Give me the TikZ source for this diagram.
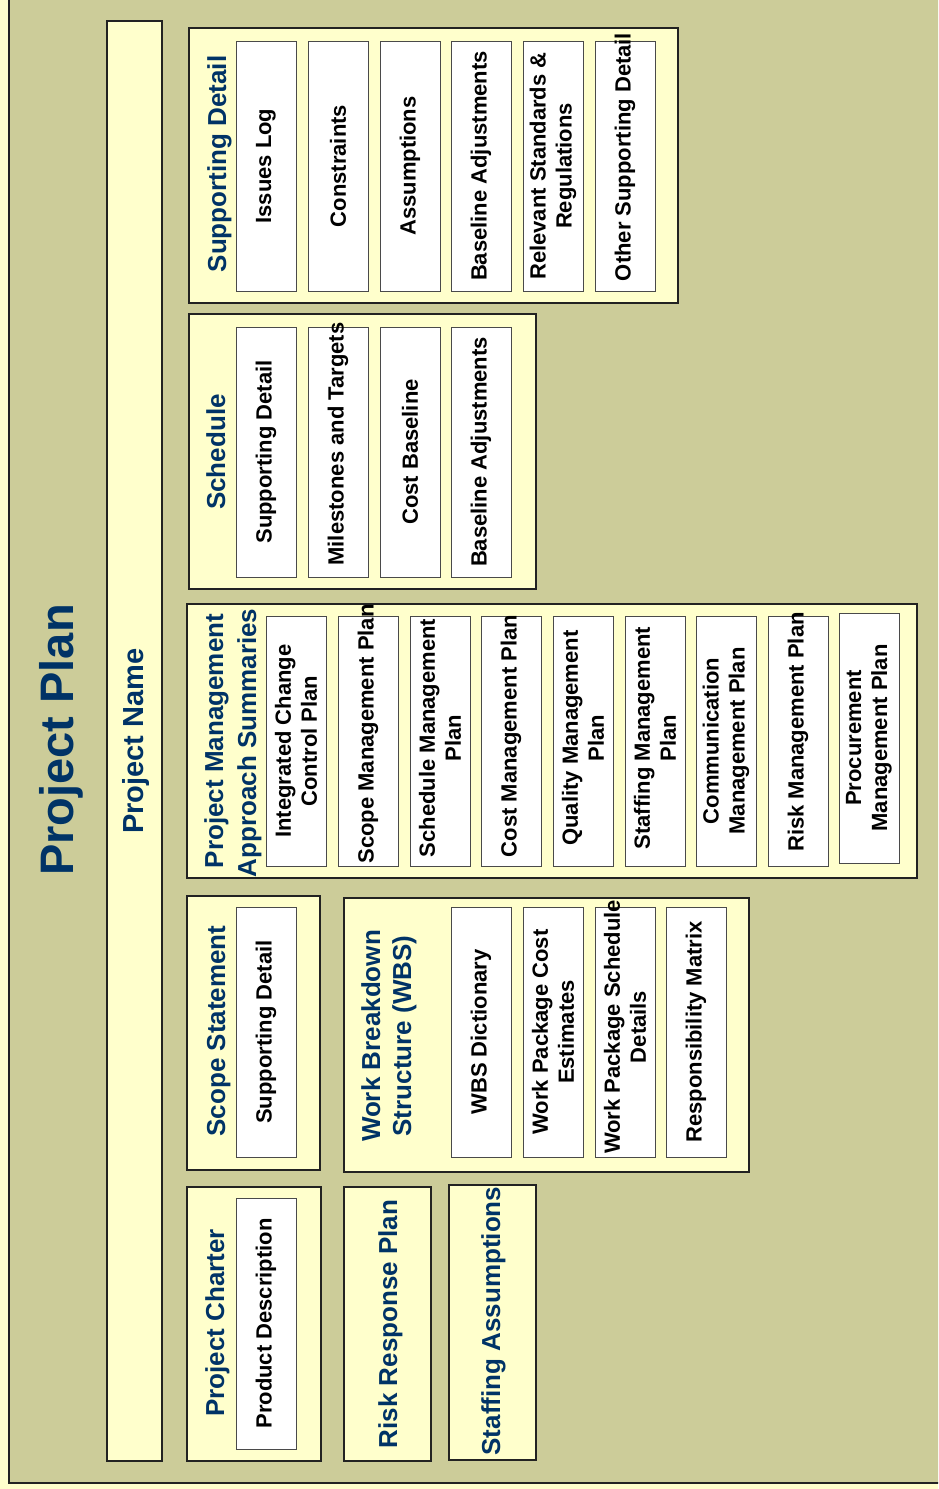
\documentclass[tikz,border=0pt]{standalone}
\usepackage{fontspec}
\setmainfont{Liberation Sans}
\definecolor{olivebg}{HTML}{CCCC99}
\definecolor{paleY}{HTML}{FFFFCC}
\definecolor{titleblue}{HTML}{003366}
\definecolor{edgeD}{HTML}{222222}
\definecolor{edgeG}{HTML}{4A4A4A}
\tikzset{
  cont/.style={draw=edgeD, line width=1.3pt, fill=paleY, inner sep=0pt, outer sep=0pt, anchor=north west},
  ibox/.style={draw=edgeG, line width=1pt, fill=white, inner sep=0pt, outer sep=0pt, anchor=north west, minimum width=60pt, minimum height=250pt},
  itext/.style={rotate=90, inner sep=0pt, align=center, font=\fontsize{22}{26}\selectfont\bfseries, text=black},
  ttext/.style={rotate=90, inner sep=0pt, anchor=base, font=\fontsize{26}{32}\selectfont\bfseries, text=titleblue}
}
\begin{document}
\begin{tikzpicture}[x=1pt,y=-1pt]
\useasboundingbox (0,0) rectangle (938,1489);
\clip (0,0) rectangle (938,1489);
\fill[paleY] (0,0) rectangle (938,1489);
\draw[draw=edgeD, line width=1.3pt, fill=olivebg] (9,-20) rectangle (960,1483);

% main title and project name bar
\node[rotate=90, inner sep=0pt, anchor=base, font=\fontsize{47}{52}\selectfont\bfseries, text=titleblue] (ttl) at (73,740) {Project Plan};
\node[cont, minimum width=55pt, minimum height=1440pt] (pnbar) at (107,21) {};
\node[rotate=90, inner sep=0pt, anchor=base, font=\fontsize{29}{34}\selectfont\bfseries, text=titleblue] (pname) at (143,741) {Project Name};

% ---- Supporting Detail container
\node[cont, minimum width=489pt, minimum height=275pt] (c1) at (189,28) {};
\node[ttext] (c1t) at (226,164) {Supporting Detail};
\node[ibox] (b1a) at (236,41) {};
\node[ibox] (b1b) at (308,41) {};
\node[ibox] (b1c) at (380,41) {};
\node[ibox] (b1d) at (451,41) {};
\node[ibox] (b1e) at (523,41) {};
\node[ibox] (b1f) at (595,41) {};
\node[itext] (t1a) at (b1a.center) {Issues Log};
\node[itext] (t1b) at (b1b.center) {Constraints};
\node[itext] (t1c) at (b1c.center) {Assumptions};
\node[itext] (t1d) at (b1d.center) {Baseline Adjustments};
\node[itext] (t1e) at (b1e.center) {Relevant Standards \&\\Regulations};
\node[itext] (t1f) at (625,157) {Other Supporting Detail};

% ---- Schedule container
\node[cont, minimum width=347pt, minimum height=275pt] (c2) at (189,314) {};
\node[ttext] (c2t) at (225,452) {Schedule};
\node[ibox] (b2a) at (236,327) {};
\node[ibox] (b2b) at (308,327) {};
\node[ibox] (b2c) at (380,327) {};
\node[ibox] (b2d) at (451,327) {};
\node[itext] (t2a) at (b2a.center) {Supporting Detail};
\node[itext] (t2b) at (338,444) {Milestones and Targets};
\node[itext] (t2c) at (b2c.center) {Cost Baseline};
\node[itext] (t2d) at (b2d.center) {Baseline Adjustments};

% ---- Project Management Approach Summaries
\node[cont, minimum width=730pt, minimum height=274pt] (c3) at (187,604) {};
\node[ttext] (c3t1) at (223,741) {Project Management};
\node[ttext] (c3t2) at (256,743) {Approach Summaries};
\node[ibox] (b3a) at (266,616) {};
\node[ibox] (b3b) at (338,616) {};
\node[ibox] (b3c) at (410,616) {};
\node[ibox] (b3d) at (481,616) {};
\node[ibox] (b3e) at (553,616) {};
\node[ibox] (b3f) at (625,616) {};
\node[ibox] (b3g) at (696,616) {};
\node[ibox] (b3h) at (768,616) {};
\node[ibox] (b3i) at (839,613) {};
\node[itext] (t3a) at (b3a.center) {Integrated Change\\Control Plan};
\node[itext] (t3b) at (368,734) {Scope Management Plan};
\node[itext] (t3c) at (440,738) {Schedule Management\\Plan};
\node[itext] (t3d) at (511,736) {Cost Management Plan};
\node[itext] (t3e) at (583,738) {Quality Management\\Plan};
\node[itext] (t3f) at (655,738) {Staffing Management\\Plan};
\node[itext] (t3g) at (b3g.center) {Communication\\Management Plan};
\node[itext] (t3h) at (798,732) {Risk Management Plan};
\node[itext] (t3i) at (b3i.center) {Procurement\\Management Plan};

% ---- Scope Statement
\node[cont, minimum width=133pt, minimum height=274pt] (c4) at (187,896) {};
\node[ttext] (c4t) at (225,1031) {Scope Statement};
\node[ibox] (b4a) at (236,907) {};
\node[itext] (t4a) at (b4a.center) {Supporting Detail};

% ---- WBS
\node[cont, minimum width=405pt, minimum height=274pt] (c5) at (344,898) {};
\node[ttext] (c5t1) at (380,1036) {Work Breakdown};
\node[ttext] (c5t2) at (411,1036) {Structure (WBS)};
\node[ibox] (b5a) at (451,907) {};
\node[ibox] (b5b) at (523,907) {};
\node[ibox] (b5c) at (595,907) {};
\node[ibox] (b5d) at (666,907) {};
\node[itext] (t5a) at (b5a.center) {WBS Dictionary};
\node[itext] (t5b) at (b5b.center) {Work Package Cost\\Estimates};
\node[itext] (t5c) at (625,1027) {Work Package Schedule\\Details};
\node[itext] (t5d) at (b5d.center) {Responsibility Matrix};

% ---- Project Charter
\node[cont, minimum width=134pt, minimum height=274pt] (c6) at (187,1187) {};
\node[ttext] (c6t) at (224,1323) {Project Charter};
\node[ibox, minimum height=251pt] (b6a) at (236,1198) {};
\node[itext] (t6a) at (b6a.center) {Product Description};

% ---- Risk Response Plan
\node[cont, minimum width=87pt, minimum height=274pt] (c7) at (344,1187) {};
\node[ttext] (c7t) at (397,1324) {Risk Response Plan};

% ---- Staffing Assumptions
\node[cont, minimum width=87pt, minimum height=275pt] (c8) at (449,1185) {};
\node[ttext] (c8t) at (500,1321) {Staffing Assumptions};
\end{tikzpicture}
\end{document}
